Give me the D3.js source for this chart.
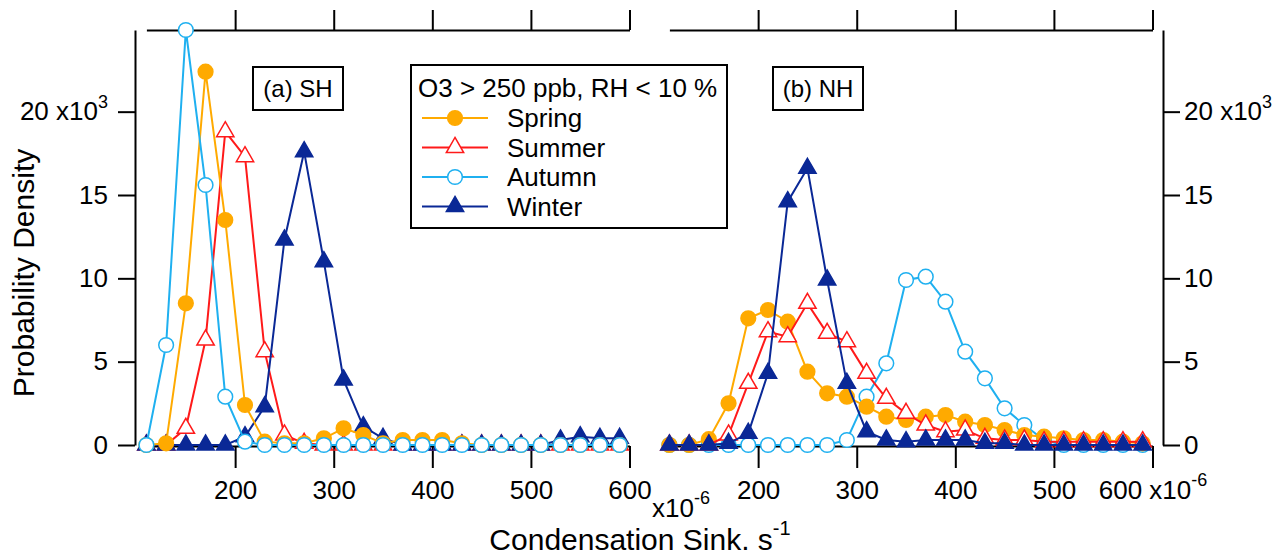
<!DOCTYPE html>
<html>
<head>
<meta charset="utf-8">
<script src="https://cdn.jsdelivr.net/npm/d3@7"></script>
<style>
  body { margin: 0; background: #fff; }
  svg { font-family: "Liberation Sans", Arial, Helvetica, sans-serif; }
</style>
</head>
<body>
<svg id="drawing_region"></svg>
<script>
// bin centres, condensation sink (x10^-6 s^-1)
const bins = [110, 130, 150, 170, 190, 210, 230, 250, 270, 290, 310, 330, 350,
  370, 390, 410, 430, 450, 470, 490, 510, 530, 550, 570, 590];
const xTicks = [200, 300, 400, 500, 600];
const yTicks = [0, 5, 10, 15, 20];

// probability density (x10^3), southern hemisphere
const shSpring = [0, 0.1, 8.5, 22.4, 13.5, 2.4, 0.2, 0.1, 0.1, 0.4, 1.0, 0.6, 0.1,
  0.3, 0.3, 0.3, 0.1, 0, 0, 0, 0, 0, 0, 0, 0];
const shSummer = [0, 0, 1.0, 6.3, 18.8, 17.3, 5.6, 0.6, 0.1, 0, 0, 0, 0,
  0, 0, 0, 0, 0, 0, 0, 0, 0, 0, 0, 0];
const shAutumn = [0, 6.0, 24.9, 15.6, 2.9, 0.2, 0, 0, 0, 0, 0, 0, 0,
  0, 0, 0, 0, 0, 0, 0, 0, 0, 0, 0, 0];
const shWinter = [0, 0, 0, 0, 0, 0.5, 2.3, 12.3, 17.6, 11.0, 3.9, 1.1, 0.4,
  0, 0, 0, 0, 0, 0, 0, 0, 0.3, 0.5, 0.4, 0.4];

// northern hemisphere
const nhSpring = [0, 0, 0.35, 2.5, 7.6, 8.1, 7.4, 4.4, 3.1, 2.9, 2.3, 1.7, 1.5,
  1.7, 1.8, 1.4, 1.2, 0.9, 0.6, 0.5, 0.4, 0.3, 0.3, 0.2, 0.1];
const nhSummer = [0, 0, 0, 0.6, 3.7, 6.8, 6.5, 8.5, 6.7, 6.2, 4.3, 2.8, 1.9,
  1.2, 0.8, 0.9, 0.4, 0.3, 0.3, 0.2, 0.2, 0.2, 0.2, 0.2, 0.2];
const nhAutumn = [0, 0, 0, 0, 0, 0, 0, 0, 0, 0.3, 2.9, 4.9, 9.9,
  10.1, 8.6, 5.6, 4.0, 2.2, 1.2, 0.3, 0, 0, 0, 0, 0];
const nhWinter = [0, 0, 0, 0.1, 0.7, 4.3, 14.6, 16.6, 9.9, 3.7, 0.8, 0.3, 0.2,
  0.3, 0.3, 0.3, 0.1, 0.1, 0, 0, 0, 0, 0, 0, 0];

const seasons = ["Spring", "Summer", "Autumn", "Winter"];
const styles = {
  Spring: { color: "#ffaa00", shape: "circle", fill: true },
  Summer: { color: "#ff1a1a", shape: "triangle", fill: false },
  Autumn: { color: "#1fb0f0", shape: "circle", fill: false },
  Winter: { color: "#0a2896", shape: "triangle", fill: true },
};

const svg = d3.select("#drawing_region").attr("width", 1287).attr("height", 559);

function markerPath(shape) {
  return shape === "circle"
    ? d3.symbol(d3.symbolCircle, 170)()
    : d3.symbol(d3.symbolTriangle, 130)();
}

class HistPanel {
  constructor(config, series) {
    this.config = config;
    this.series = series;
    this.init();
  }

  init() {
    let self = this;
    self.xscale = d3.scaleLinear().domain([110, 600]).range(self.config.xRange);
    self.yscale = d3.scaleLinear().domain([0, 24.9]).range([445, 30]);
    self.g = svg.append("g");
  }

  render() {
    let self = this;
    const c = self.config;

    // bottom axis
    const xaxis = d3.axisBottom(self.xscale).tickValues(xTicks)
      .tickSize(22).tickSizeOuter(0).tickPadding(13)
      .tickFormat((d) => (d === 600 && c.expOnTick ? "600 x10" : d));
    const xg = self.g.append("g").attr("transform", "translate(0,446)").call(xaxis);
    self.styleAxis(xg);
    if (c.expOnTick) {
      xg.selectAll(".tick text").filter((d) => d === 600)
        .append("tspan").attr("dy", "-0.75em").attr("font-size", 18).text("-6");
    }

    // top axis, ticks only
    const top = d3.axisTop(self.xscale).tickValues(xTicks)
      .tickSize(20).tickSizeOuter(0).tickFormat("");
    self.styleAxis(self.g.append("g").attr("transform", "translate(0,30)").call(top));

    // y axis
    const fmt = (d) => (d === 20 ? "20 x10" : d);
    const yaxis = (c.side === "left" ? d3.axisLeft(self.yscale).tickPadding(10)
      : d3.axisRight(self.yscale).tickPadding(4))
      .tickValues(yTicks).tickSize(17).tickSizeOuter(0).tickFormat(fmt);
    const yg = self.g.append("g").attr("transform", `translate(${c.yAxisX},0)`).call(yaxis);
    self.styleAxis(yg);
    yg.selectAll(".tick text").filter((d) => d === 20)
      .append("tspan").attr("dy", "-0.7em").attr("font-size", 18).text("3");

    // series
    const line = d3.line()
      .x((d) => self.xscale(d.x))
      .y((d) => self.yscale(d.y));

    c.order.forEach((name) => {
      const st = styles[name];
      const pts = bins.map((b, i) => ({ x: b, y: self.series[name][i] }));
      self.g.append("path")
        .datum(pts)
        .attr("d", line)
        .attr("fill", "none")
        .attr("stroke", st.color)
        .attr("stroke-width", 2);
      self.g.append("g")
        .selectAll("path")
        .data(pts)
        .join("path")
        .attr("d", markerPath(st.shape))
        .attr("transform", (d) => `translate(${self.xscale(d.x)},${self.yscale(d.y)})`)
        .attr("fill", st.fill ? st.color : "#fff")
        .attr("stroke", st.color)
        .attr("stroke-width", 1.5);
    });

    // panel tag
    const tag = self.g.append("g");
    tag.append("rect")
      .attr("x", c.tag.x).attr("y", 67).attr("width", 90).attr("height", 43)
      .attr("fill", "#fff").attr("stroke", "#000").attr("stroke-width", 2);
    tag.append("text")
      .attr("x", c.tag.x + 45).attr("y", 97)
      .attr("text-anchor", "middle").attr("font-size", 24)
      .text(c.tag.label);
  }

  styleAxis(g) {
    g.attr("font-size", 26).attr("font-family", null);
    g.selectAll("path, line").attr("stroke", "#000").attr("stroke-width", 2);
    g.selectAll("text").attr("fill", "#000");
  }
}

const sh = new HistPanel({
  xRange: [146.4, 629.5], yAxisX: 135, side: "left", expOnTick: false,
  order: ["Summer", "Winter", "Spring", "Autumn"],
  tag: { x: 253, label: "(a) SH" },
}, { Spring: shSpring, Summer: shSummer, Autumn: shAutumn, Winter: shWinter });
sh.render();

const nh = new HistPanel({
  xRange: [669.4, 1152.5], yAxisX: 1163, side: "right", expOnTick: true,
  order: ["Autumn", "Spring", "Summer", "Winter"],
  tag: { x: 773, label: "(b) NH" },
}, { Spring: nhSpring, Summer: nhSummer, Autumn: nhAutumn, Winter: nhWinter });
nh.render();

// exponent of left x axis
const ex = svg.append("text").attr("x", 652).attr("y", 517).attr("font-size", 26).text("x10");
ex.append("tspan").attr("dy", "-0.75em").attr("font-size", 18).text("-6");

// legend
const legend = svg.append("g");
legend.append("rect")
  .attr("x", 411).attr("y", 65).attr("width", 316).attr("height", 163)
  .attr("fill", "#fff").attr("stroke", "#000").attr("stroke-width", 2);
legend.append("text").attr("x", 418).attr("y", 97).attr("font-size", 26)
  .text("O3 > 250 ppb, RH < 10 %");
seasons.forEach((name, i) => {
  const st = styles[name];
  const y = 118 + i * 29.5;
  legend.append("line")
    .attr("x1", 422).attr("x2", 488).attr("y1", y).attr("y2", y)
    .attr("stroke", st.color).attr("stroke-width", 2);
  legend.append("path")
    .attr("d", markerPath(st.shape))
    .attr("transform", `translate(455,${y})`)
    .attr("fill", st.fill ? st.color : "#fff")
    .attr("stroke", st.color).attr("stroke-width", 1.5);
  legend.append("text").attr("x", 507).attr("y", y + 9).attr("font-size", 26).text(name);
});

// axis titles
svg.append("text")
  .attr("transform", "translate(34,273) rotate(-90)")
  .attr("text-anchor", "middle").attr("font-size", 30)
  .text("Probability Density");
const xt = svg.append("text")
  .attr("x", 640).attr("y", 550)
  .attr("text-anchor", "middle").attr("font-size", 30)
  .text("Condensation Sink. s");
xt.append("tspan").attr("dy", "-0.75em").attr("font-size", 20).text("-1");
</script>
</body>
</html>
